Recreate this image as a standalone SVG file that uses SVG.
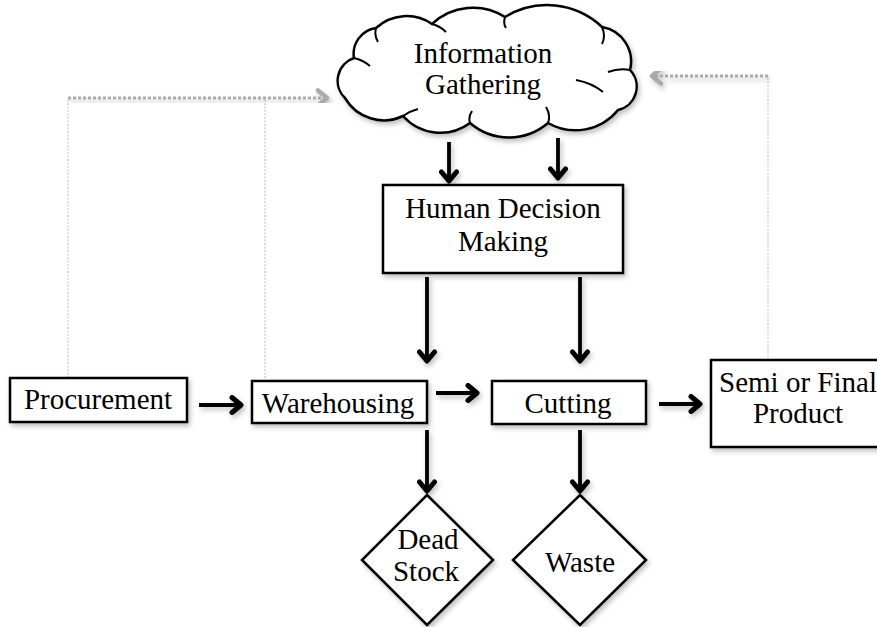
<svg xmlns="http://www.w3.org/2000/svg" width="877" height="627" viewBox="0 0 877 627">
<defs>
<filter id="sh" x="-20%" y="-20%" width="140%" height="140%">
<feDropShadow dx="2" dy="3" stdDeviation="2.5" flood-color="#000" flood-opacity="0.25"/>
</filter>
<marker id="ah" viewBox="0 0 20 20" refX="13" refY="10" markerWidth="20" markerHeight="20" markerUnits="userSpaceOnUse" orient="auto">
<path d="M4,2.5 L13,10 L4,17.5" fill="none" stroke="#000" stroke-width="5" stroke-linecap="round" stroke-linejoin="round"/>
</marker>
<marker id="ahg" viewBox="0 0 20 20" refX="13" refY="10" markerWidth="20" markerHeight="20" markerUnits="userSpaceOnUse" orient="auto">
<path d="M4,2.5 L13,10 L4,17.5" fill="none" stroke="#aaa" stroke-width="4.5" stroke-linecap="round" stroke-linejoin="round"/>
</marker>
</defs>
<style>
.box{fill:#fff;stroke:#000;stroke-width:2.5}
.t{font-family:"Liberation Serif","Times New Roman",serif;font-size:29px;fill:#000;text-anchor:middle}
.a{stroke:#000;stroke-width:3.8;fill:none;marker-end:url(#ah)}
.fb{stroke:#aaa;stroke-width:3;stroke-dasharray:3 2;fill:none}
.fv{stroke:#bbb;stroke-width:1;stroke-dasharray:2 1.5;fill:none}
</style>
<rect width="877" height="627" fill="#fff"/>
<g id="connectors">
<g filter="url(#sh)">
<line class="a" x1="449" y1="142" x2="449" y2="181"/>
<line class="a" x1="558" y1="138" x2="558" y2="178"/>
<line class="a" x1="427" y1="277" x2="427" y2="361"/>
<line class="a" x1="580" y1="277" x2="580" y2="361"/>
<line class="a" x1="199" y1="405" x2="241" y2="405"/>
<line class="a" x1="436" y1="393" x2="477" y2="393"/>
<line class="a" x1="659" y1="404" x2="700" y2="404"/>
<line class="a" x1="427" y1="430" x2="427" y2="491"/>
<line class="a" x1="580" y1="430" x2="580" y2="491"/>
</g>
<polyline class="fv" points="68,378 68,98"/>
<polyline class="fv" points="265,378 265,98"/>
<polyline class="fv" points="768,360 768,76"/>
<g filter="url(#sh)">
<line class="fb" x1="68" y1="98" x2="327" y2="98" style="marker-end:url(#ahg)"/>
<line class="fb" x1="768" y1="76" x2="652" y2="76" style="marker-end:url(#ahg)"/>
</g>
</g>
<g id="info">
<path filter="url(#sh)" fill="#fff" stroke="#000" stroke-width="2.5" d="M345,98 A24 24 0 0 1 354,58 A26 26 0 0 1 376,28 A45 45 0 0 1 432,24 A60 60 0 0 1 505,17 A80 80 0 0 1 602,27 A35 35 0 0 1 630,70 A24 24 0 0 1 618,110 A55 55 0 0 1 548,123 A60 60 0 0 1 470,123 A50 50 0 0 1 403,116 A45 45 0 0 1 345,98 Z"/>
<path fill="none" stroke="#000" stroke-width="2" d="M354,58 Q363,60 370,66 M376,28 Q374,36 378,42 M432,24 Q440,26 446,32 M505,17 Q503,24 506,28 M602,27 Q606,36 602,44 M630,70 Q619,68 608,72 M576,80 Q592,83 603,92 M548,123 Q551,115 546,107 M470,123 Q468,117 472,111 M403,116 Q410,111 418,109"/>
<text class="t" x="483" y="63">Information</text>
<text class="t" x="483" y="94">Gathering</text>
</g>
<g id="hdm">
<rect class="box" x="383" y="185" width="240" height="88" filter="url(#sh)"/>
<text class="t" x="503" y="218">Human Decision</text>
<text class="t" x="503" y="251">Making</text>
</g>
<g id="procurement">
<rect class="box" x="10" y="378" width="177" height="44" filter="url(#sh)"/>
<text class="t" x="98" y="409">Procurement</text>
</g>
<g id="warehousing">
<rect class="box" x="252" y="381" width="175" height="42" filter="url(#sh)"/>
<text class="t" x="338" y="413">Warehousing</text>
</g>
<g id="cutting">
<rect class="box" x="492" y="381" width="154" height="43" filter="url(#sh)"/>
<text class="t" x="568" y="413">Cutting</text>
</g>
<g id="product">
<rect class="box" x="711" y="360" width="170" height="87" filter="url(#sh)"/>
<text class="t" x="798" y="392">Semi or Final</text>
<text class="t" x="798" y="423">Product</text>
</g>
<g id="deadstock">
<polygon class="box" points="427,495 493,560 427,625 362,560" filter="url(#sh)"/>
<text class="t" x="428" y="549">Dead</text>
<text class="t" x="426" y="581">Stock</text>
</g>
<g id="waste">
<polygon class="box" points="580,495 646,560 580,625 513,560" filter="url(#sh)"/>
<text class="t" x="580" y="572">Waste</text>
</g>
</svg>
